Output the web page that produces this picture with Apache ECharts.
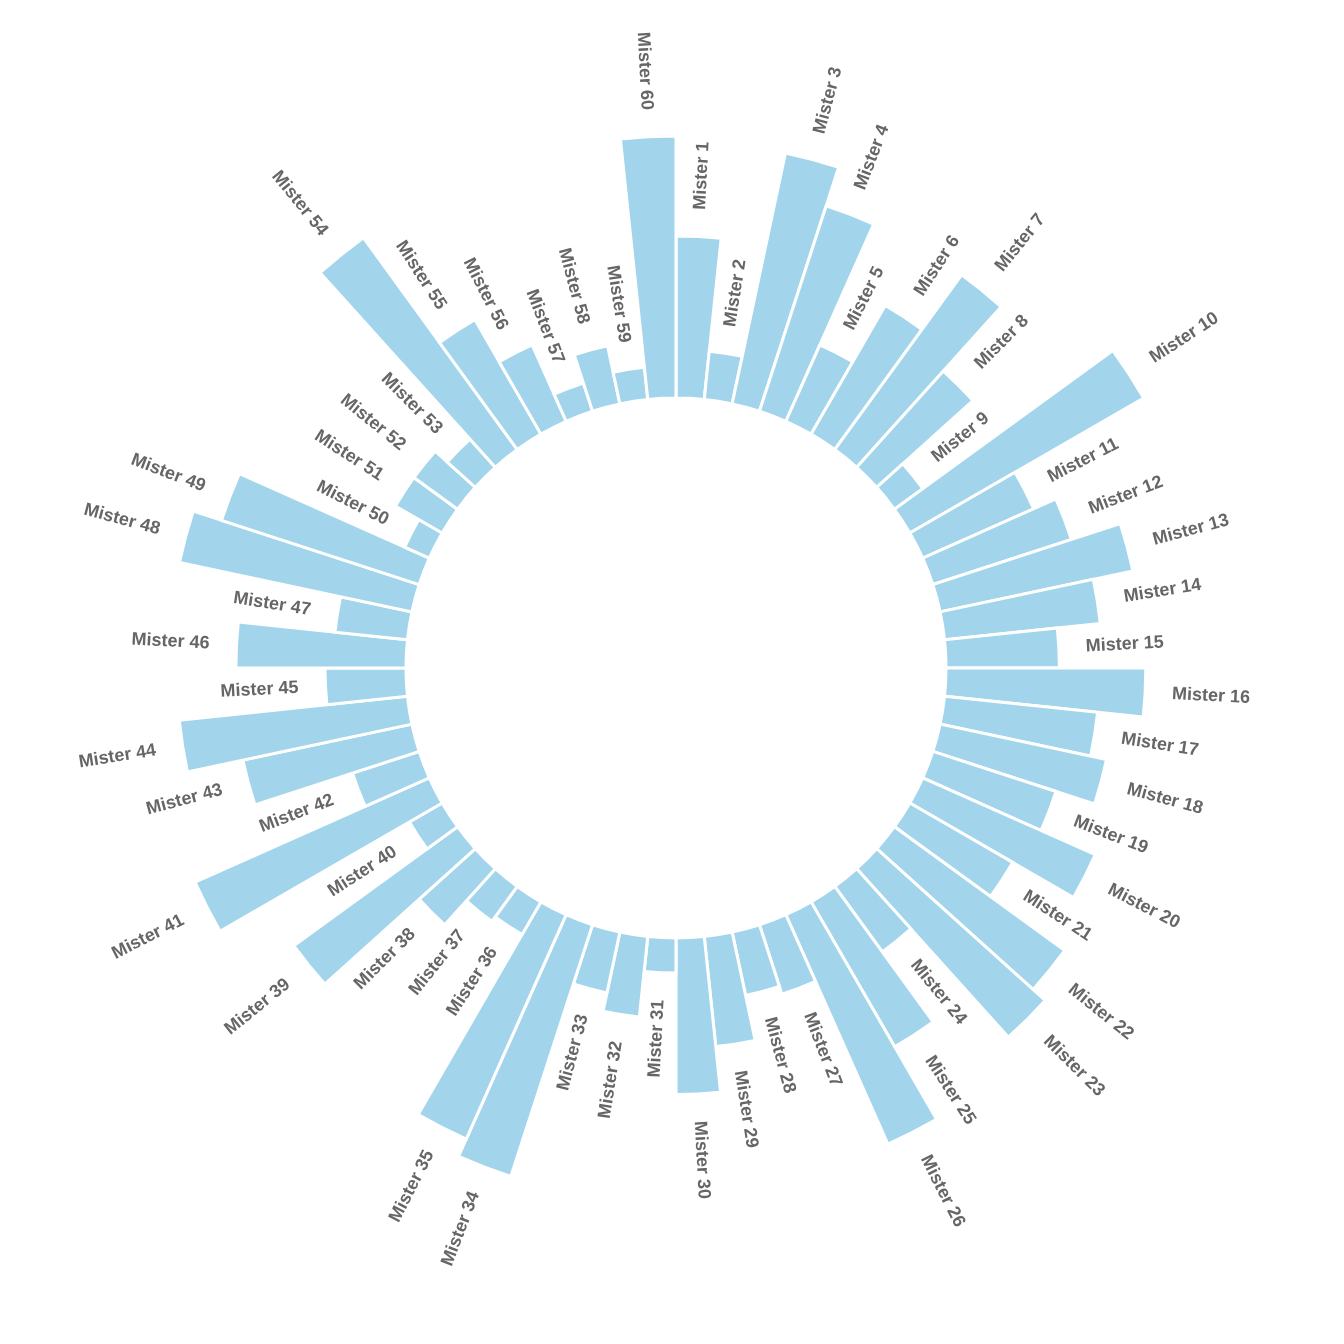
<!DOCTYPE html>
<html>
<head>
<meta charset="utf-8">
<script src="https://cdn.jsdelivr.net/npm/echarts@6/dist/echarts.min.js"></script>
<style>
html,body{margin:0;padding:0;background:#fff;}
#chart{width:1344px;height:1344px;}
</style>
</head>
<body>
<div id="chart"></div>
<script>
const categories = Array.from({length: 60}, (_, i) => 'Mister ' + (i + 1));
const values = [
  60, 18, 95, 80, 31, 55, 80, 48, 13, 100,
  45, 54, 73, 58, 42, 74, 57, 63, 48, 70,
  44, 78, 84, 30, 62, 93, 27, 24, 41, 58,
  13, 30, 23, 98, 91, 14, 16, 28, 75, 14,
  95, 26, 64, 85, 30, 63, 27, 88, 77, 10,
  20, 20, 14, 97, 49, 31, 11, 22, 12, 97
];
const labelOffset = 10;

const chart = echarts.init(document.getElementById('chart'));
chart.setOption({
  backgroundColor: '#ffffff',
  animation: false,
  polar: { center: [676, 668], radius: [270, 594] },
  radiusAxis: { type: 'value', min: 0, max: 120, show: false },
  angleAxis: {
    type: 'category', data: categories, startAngle: 90, clockwise: true,
    show: false, boundaryGap: true
  },
  series: [
    {
      type: 'bar',
      coordinateSystem: 'polar',
      data: values,
      barCategoryGap: '0%',
      itemStyle: { color: '#a2d5ec', borderColor: '#ffffff', borderWidth: 3 },
      silent: true
    },
    {
      type: 'custom',
      coordinateSystem: 'polar',
      data: values.map((v, i) => [v, i]),
      encode: { radius: 0, angle: 1 },
      silent: true,
      renderItem: function (params, api) {
        const idx = params.dataIndex;
        const r = values[idx] + labelOffset;
        const p = api.coord([r, idx]);
        const cx = params.coordSys.cx, cy = params.coordSys.cy;
        const a = Math.atan2(cy - p[1], p[0] - cx);
        const right = idx < 30;
        return {
          type: 'text',
          x: p[0], y: p[1],
          rotation: right ? a : a + Math.PI,
          style: {
            text: categories[idx],
            fill: '#666666',
            font: 'bold 18px "Liberation Sans", Arial, sans-serif',
            align: right ? 'left' : 'right',
            verticalAlign: 'middle'
          }
        };
      }
    }
  ]
});
</script>
</body>
</html>
